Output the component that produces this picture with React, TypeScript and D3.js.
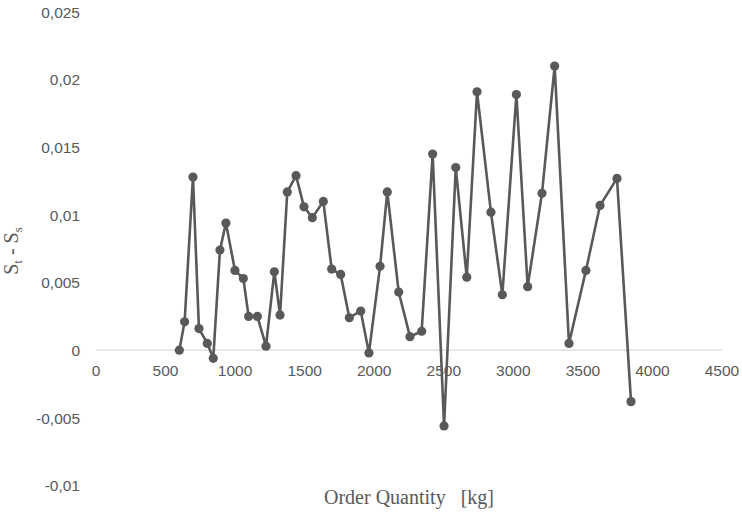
import React from "react";
import * as d3 from "d3";

const orderQty: number[] = [
  599, 637, 697, 740, 800, 843, 891, 934, 999, 1059, 1097, 1160, 1222, 1282, 1323,
  1375, 1438, 1495, 1555, 1634, 1694, 1759, 1821, 1903, 1962, 2042, 2094, 2176, 2257,
  2341, 2420, 2502, 2586, 2665, 2739, 2839, 2921, 3022, 3103, 3206, 3297, 3400, 3522,
  3623, 3745, 3846,
];
const diffValues: number[] = [
  0.0, 0.0021, 0.0128, 0.0016, 0.0005, -0.0006, 0.0074, 0.0094, 0.0059, 0.0053, 0.0025,
  0.0025, 0.0003, 0.0058, 0.0026, 0.0117, 0.0129, 0.0106, 0.0098, 0.011, 0.006, 0.0056,
  0.0024, 0.0029, -0.0002, 0.0062, 0.0117, 0.0043, 0.001, 0.0014, 0.0145, -0.0056,
  0.0135, 0.0054, 0.0191, 0.0102, 0.0041, 0.0189, 0.0047, 0.0116, 0.021, 0.0005, 0.0059,
  0.0107, 0.0127, -0.0038,
];
const xTicks: number[] = [0, 500, 1000, 1500, 2000, 2500, 3000, 3500, 4000, 4500];
const yTicks: number[] = [-0.01, -0.005, 0, 0.005, 0.01, 0.015, 0.02, 0.025];
const xTitle = "Order Quantity   [kg]";

const W = 742;
const H = 516;
const GREY = "#595959";
const SANS = "'Liberation Sans', Arial, sans-serif";
const SERIF = "'Liberation Serif', 'Times New Roman', serif";

export default function App() {
  const x = d3.scaleLinear().domain([0, 4500]).range([96, 722]);
  const y = d3.scaleLinear().domain([-0.01, 0.025]).range([485.5, 12]);
  const pts = orderQty.map((q, i) => [q, diffValues[i]] as [number, number]);
  const line = d3
    .line<[number, number]>()
    .x((d) => x(d[0]))
    .y((d) => y(d[1]));
  const fmt = (v: number) => String(v).replace(".", ",");

  return (
    <svg
      width={W}
      height={H}
      style={{ position: "absolute", left: 0, top: 0, background: "#fff" }}
    >
      <rect x={0} y={0} width={W} height={H} fill="#fff" />
      {/* zero line */}
      <line x1={x(0)} x2={x(4500)} y1={y(0)} y2={y(0)} stroke="#d9d9d9" strokeWidth={1.3} />
      {/* y tick labels */}
      {yTicks.map((t) => (
        <text
          key={"y" + t}
          x={80}
          y={y(t) + 5.7}
          textAnchor="end"
          fontFamily={SANS}
          fontSize={15.5}
          fill={GREY}
        >
          {fmt(t)}
        </text>
      ))}
      {/* x tick labels */}
      {xTicks.map((t) => (
        <text
          key={"x" + t}
          x={x(t)}
          y={376}
          textAnchor="middle"
          fontFamily={SANS}
          fontSize={15.5}
          fill={GREY}
        >
          {t}
        </text>
      ))}
      {/* series */}
      <path d={line(pts) || ""} fill="none" stroke={GREY} strokeWidth={2.6} strokeLinejoin="round" />
      {pts.map((d, i) => (
        <circle key={i} cx={x(d[0])} cy={y(d[1])} r={4.6} fill={GREY} />
      ))}
      {/* axis titles */}
      <text
        x={409}
        y={504}
        textAnchor="middle"
        fontFamily={SERIF}
        fontSize={20}
        fill={GREY}
        style={{ whiteSpace: "pre" }}
      >
        {xTitle}
      </text>
      <text
        transform={`translate(18,251) rotate(-90)`}
        textAnchor="middle"
        fontFamily={SERIF}
        fontSize={20}
        fill={GREY}
        style={{ whiteSpace: "pre" }}
      >
        <tspan>S</tspan>
        <tspan fontSize={13} dy={4}>t</tspan>
        <tspan dy={-4}>{" - S"}</tspan>
        <tspan fontSize={13} dy={4}>s</tspan>
      </text>
    </svg>
  );
}
